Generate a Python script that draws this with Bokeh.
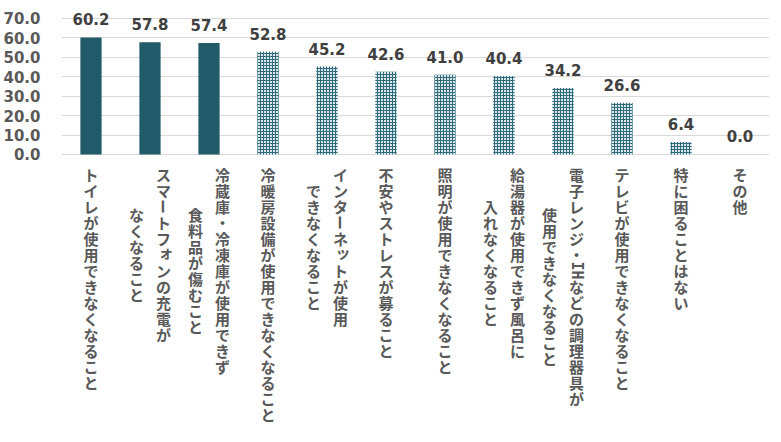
from math import pi

from bokeh.plotting import figure
from bokeh.core.properties import value
from bokeh.models import (ColumnDataSource, LabelSet, FixedTicker,
                          NumeralTickFormatter, Range1d, FactorRange)
from bokeh.embed import file_html
from bokeh.resources import INLINE


# data: each category label is a list of its columns (first column is the rightmost)
labels = [
    ["トイレが使用できなくなること"],
    ["スマートフォンの充電が", "なくなること"],
    ["冷蔵庫・冷凍庫が使用できず", "食料品が傷むこと"],
    ["冷暖房設備が使用できなくなること"],
    ["インターネットが使用", "できなくなること"],
    ["不安やストレスが募ること"],
    ["照明が使用できなくなること"],
    ["給湯器が使用できず風呂に", "入れなくなること"],
    ["電子レンジ・IHなどの調理器具が", "使用できなくなること"],
    ["テレビが使用できなくなること"],
    ["特に困ることはない"],
    ["その他"],
]
values = [60.2, 57.8, 57.4, 52.8, 45.2, 42.6, 41.0, 40.4, 34.2, 26.6, 6.4, 0.0]
y_ticks = [0, 10, 20, 30, 40, 50, 60, 70]
n_solid = 3

cats = ["".join(l) for l in labels]

NUM_FONT = "DejaVu Sans"
JP_FONT = "Noto Sans CJK JP"
LATIN_FONT = "DejaVu Sans Mono"   # serifed "I" like the original

# layout helpers (pixels)
CELL = 16        # vertical pitch of one character
COL_GAP = 27     # distance between two text columns
FIRST = 20       # first character centre below the 0 line
SMALL_KANA = set("ァィゥェォッャュョぁぃぅぇぉっゃゅょ")


def tokens(line):
    # latin runs (e.g. "IH") stay together and get rotated like in vertical writing
    out, buf = [], ""
    for ch in line:
        if ch.isascii():
            buf += ch
            continue
        if buf:
            out.append(buf)
            buf = ""
        out.append(ch)
    if buf:
        out.append(buf)
    return out


lab = dict(x=[], y=[], text=[], xo=[], yo=[], angle=[], font=[])
for cat, cols in zip(cats, labels):
    toks = [tokens(c) for c in cols]
    longest = max(len(t) for t in toks)
    for k, tk in enumerate(toks):
        x_off = (len(toks) - 1) / 2 * COL_GAP - k * COL_GAP
        start = (longest - len(tk)) / 2
        for j, t in enumerate(tk):
            dx, dy = 0, 0
            if t in SMALL_KANA:
                dx, dy = 2.5, 2.5
            lab["x"].append(cat)
            lab["y"].append(0)
            lab["text"].append(t)
            lab["xo"].append(x_off + dx)
            lab["yo"].append(-(FIRST + (start + j) * CELL) + dy)
            lab["angle"].append(-pi / 2 if (t == "ー" or t.isascii()) else 0)
            lab["font"].append(LATIN_FONT if t.isascii() else JP_FONT)

solid = ColumnDataSource(dict(cat=cats[:n_solid], val=values[:n_solid]))
hatched = ColumnDataSource(dict(cat=cats[n_solid:], val=values[n_solid:]))
all_vals = ColumnDataSource(dict(cat=cats, val=values,
                                 txt=["%.1f" % v for v in values]))

# frame runs from the top of the canvas to its bottom; grid and axis stop at 0..70
p = figure(x_range=FactorRange(*cats), y_range=Range1d(-140.0, 78.2),
           width=769, height=426, output_backend="svg", toolbar_location=None,
           x_axis_location=None, min_border_left=60, min_border_right=0,
           min_border_top=2, min_border_bottom=0)
p.outline_line_color = None
p.xgrid.visible = False
p.ygrid.grid_line_color = "#D9D9D9"
p.ygrid.grid_line_width = 1
p.ygrid.bounds = (0, 70)

p.yaxis.ticker = FixedTicker(ticks=y_ticks)
p.yaxis.formatter = NumeralTickFormatter(format="0.0")
p.yaxis.bounds = (0, 70)
p.yaxis.axis_line_color = None
p.yaxis.major_tick_line_color = None
p.yaxis.minor_tick_line_color = None
p.yaxis.major_label_standoff = 15
p.yaxis.major_label_text_font = NUM_FONT
p.yaxis.major_label_text_font_style = "bold"
p.yaxis.major_label_text_font_size = "15px"
p.yaxis.major_label_text_color = "#595959"

p.vbar(x="cat", top="val", width=0.36, source=solid,
       fill_color="#215A69", line_color=None)
p.vbar(x="cat", top="val", width=0.36, source=hatched,
       fill_color="#DCE7EA", line_color=None,
       hatch_pattern="+", hatch_color="#2F6B7A", hatch_scale=3, hatch_weight=1)

p.add_layout(LabelSet(x="cat", y="val", text="txt", source=all_vals,
                      y_offset=12, text_align="center", text_baseline="alphabetic",
                      text_font=value(NUM_FONT), text_font_style="bold",
                      text_font_size="15px", text_color="#404040"))

p.add_layout(LabelSet(x="x", y="y", text="text", x_offset="xo", y_offset="yo",
                      angle="angle", source=ColumnDataSource(lab),
                      text_align="center", text_baseline="middle",
                      text_font="font", text_font_style="bold",
                      text_font_size="15px", text_color="#595959"))

open("out.html", "w").write(file_html(p, INLINE))
